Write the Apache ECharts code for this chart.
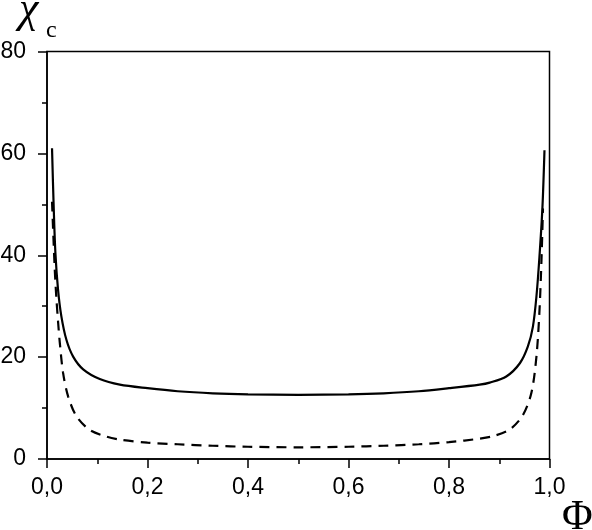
<!DOCTYPE html>
<html>
<head>
<meta charset="utf-8">
<script src="https://cdn.jsdelivr.net/npm/echarts@6/dist/echarts.min.js"></script>
<style>html,body{margin:0;padding:0;background:#fff}#c{width:592px;height:530px}</style>
</head>
<body>
<div id="c"></div>
<script>
// Φ positions and χc values
const solidPhi = [0.010,0.0133,0.0167,0.022,0.0286,0.0386,0.052,0.072,0.105,0.145,0.20,0.26,0.33,0.40,0.50,0.60,0.67,0.74,0.80,0.861,0.881,0.914,0.941,0.957,0.967,0.974,0.980,0.986,0.990];
const solidChi = [61.0,49.5,40.5,33.2,28.0,23.4,20.1,17.6,15.7,14.6,13.9,13.3,12.9,12.7,12.6,12.7,12.9,13.3,13.9,14.6,15.0,16.2,18.8,22.1,26.0,31.9,39.7,49.5,60.6];
const dashPhi = [0.010,0.0153,0.0187,0.022,0.0253,0.032,0.042,0.0585,0.085,0.118,0.145,0.20,0.26,0.33,0.40,0.50,0.60,0.67,0.74,0.80,0.861,0.888,0.921,0.947,0.964,0.974,0.980,0.984,0.987];
const dashChi = [50.5,37.5,31.5,27.0,23.0,16.9,12.3,8.4,5.7,4.4,3.8,3.2,2.9,2.6,2.4,2.3,2.4,2.6,2.9,3.3,4.0,4.5,5.8,8.6,13.0,20.1,29.0,39.0,49.2];
const xTicks = [0,0.2,0.4,0.6,0.8,1.0];
const yTicks = [0,20,40,60,80];

const pair = (xs, ys) => xs.map((x, i) => [x, ys[i]]);
const chart = echarts.init(document.getElementById('c'), null, {renderer: 'canvas'});
const axisFont = {fontFamily: 'Liberation Sans', fontSize: 23, color: '#000'};
chart.setOption({
  animation: false,
  backgroundColor: '#fff',
  grid: {left: 47, right: 42.5, top: 51.5, bottom: 71, containLabel: false, outerBoundsMode: 'none',
         show: true, borderColor: '#000', borderWidth: 1.5, backgroundColor: 'transparent'},
  xAxis: {
    type: 'value', min: xTicks[0], max: xTicks[xTicks.length - 1], interval: 0.2,
    axisLine: {lineStyle: {color: '#000', width: 1.5}},
    axisTick: {show: true, inside: false, length: 9, lineStyle: {color: '#000', width: 1.5}},
    minorTick: {show: true, splitNumber: 2, length: 5, lineStyle: {color: '#000', width: 1.5}},
    splitLine: {show: false},
    axisLabel: Object.assign({margin: 17, formatter: v => v.toFixed(1).replace('.', ',')}, axisFont)
  },
  yAxis: {
    type: 'value', min: yTicks[0], max: yTicks[yTicks.length - 1], interval: 20,
    axisLine: {lineStyle: {color: '#000', width: 1.5}},
    axisTick: {show: true, inside: false, length: 9, lineStyle: {color: '#000', width: 1.5}},
    minorTick: {show: true, splitNumber: 2, length: 5, lineStyle: {color: '#000', width: 1.5}},
    splitLine: {show: false},
    axisLabel: Object.assign({margin: 21}, axisFont)
  },
  series: [
    {type: 'line', data: pair(solidPhi, solidChi), showSymbol: false, smooth: 0.3,
     lineStyle: {color: '#000', width: 2.2}},
    {type: 'line', data: pair(dashPhi, dashChi), showSymbol: false, smooth: 0.3,
     lineStyle: {color: '#000', width: 2.2, type: [10, 7]}}
  ],
  graphic: [
    {type: 'text', left: 19, top: -12, style: {text: 'χ', font: 'italic 44px "Liberation Serif"', fill: '#000'}},
    {type: 'text', left: 46, top: 19, style: {text: 'c', font: '24px "Liberation Serif"', fill: '#000'}},
    {type: 'text', left: 562, top: 497, style: {text: 'Φ', font: '42px "Liberation Serif"', fill: '#000'}}
  ]
});
</script>
</body>
</html>
